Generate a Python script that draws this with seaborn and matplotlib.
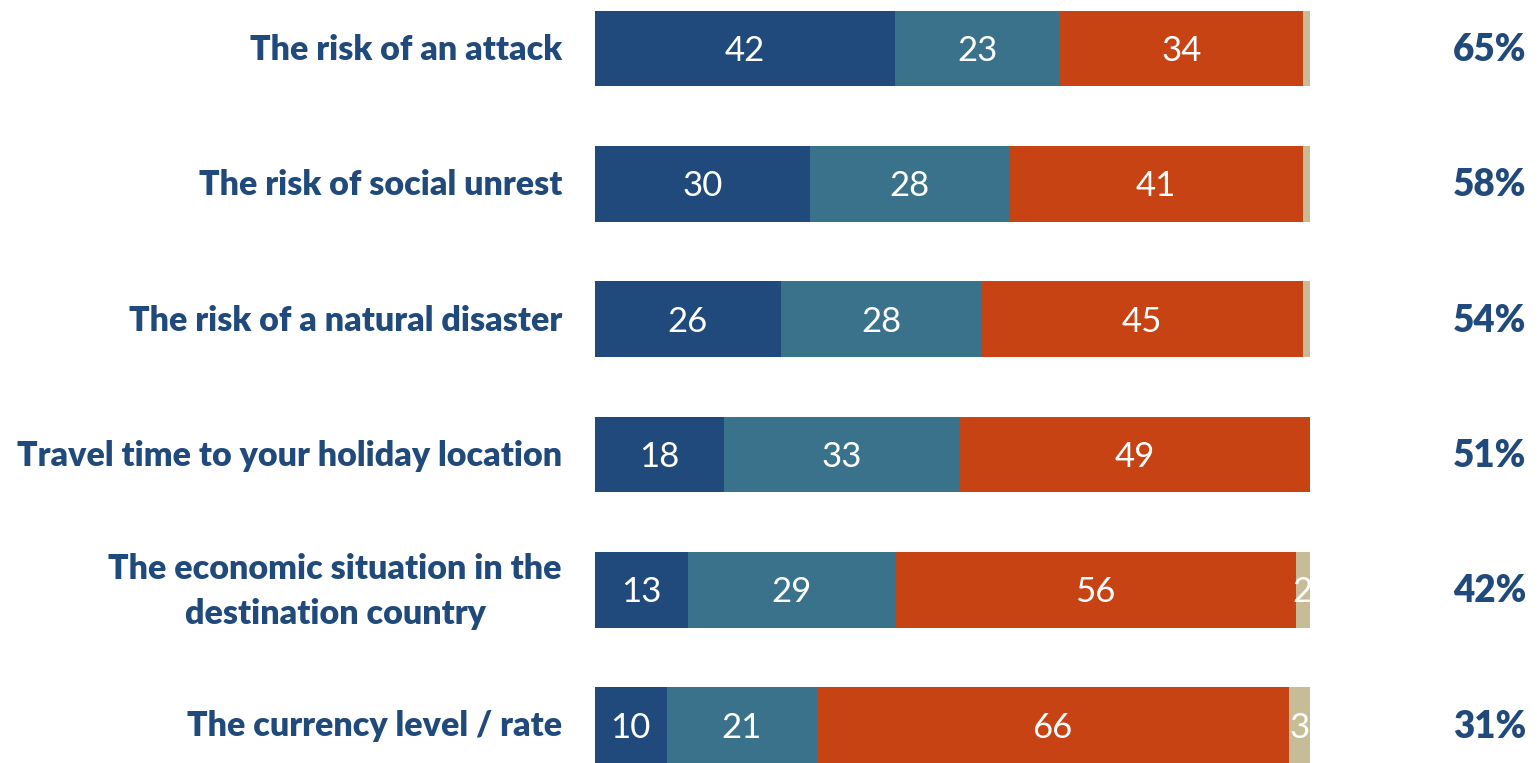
import numpy as np
import pandas as pd
import matplotlib
matplotlib.use("Agg")
import matplotlib.pyplot as plt
import seaborn as sns

categories = [
    "The risk of an attack",
    "The risk of social unrest",
    "The risk of a natural disaster",
    "Travel time to your holiday location",
    "The economic situation in the\ndestination country",
    "The currency level / rate",
]
very_important = [42, 30, 26, 18, 13, 10]
rather_important = [23, 28, 28, 33, 29, 21]
not_important = [34, 41, 45, 49, 56, 66]
no_answer = [1, 1, 1, 0, 2, 3]

series = [very_important, rather_important, not_important, no_answer]
colors = ["#214A7C", "#3A728C", "#C84314", "#C6BD98"]
label_color = "#214A7C"

sns.set_theme(style="white")
plt.rcParams["font.family"] = ["Lato", "DejaVu Sans"]

fig = plt.figure(figsize=(15.4, 7.63), dpi=100)
ax = fig.add_axes([595 / 1540, 0.0, 715 / 1540, 1.0])

df = pd.DataFrame({"category": categories})
cum = np.cumsum(np.array(series), axis=0)

# Draw cumulative totals from the widest down so each segment shows on top
for i in range(len(series) - 1, -1, -1):
    df["total"] = cum[i]
    sns.barplot(data=df, x="total", y="category", orient="h", color=colors[i],
                width=0.56, saturation=1, ax=ax, linewidth=0, order=categories)

# Segment values
for r in range(len(categories)):
    left = 0
    for i, vals in enumerate(series):
        v = vals[r]
        if v >= 2:
            ax.text(left + v / 2, r + 0.02, f"{v}", ha="center", va="center",
                    color="white", fontsize=25)
        left += v

row_y = [1 - (50 + r * 135.3) / 763 for r in range(len(categories))]

# Share of "important" answers on the right
for r in range(len(categories)):
    share = very_important[r] + rather_important[r]
    ax.text(1526 / 1540, row_y[r], f"{share}%",
            transform=fig.transFigure, ha="right", va="center",
            color=label_color, fontsize=26.5, fontweight="heavy")

# Category labels
for r, cat in enumerate(categories):
    ax.text(562 / 1540, row_y[r], cat,
            transform=fig.transFigure, ha="right", va="center",
            color=label_color, fontsize=24.5, fontweight="heavy",
            linespacing=1.5, multialignment="center")

ax.set_xlim(0, 100)
ax.set_ylim(5.28, -0.358)
ax.set_xlabel("")
ax.set_ylabel("")
ax.set_xticks([])
ax.set_yticks([])
for s in ax.spines.values():
    s.set_visible(False)

fig.savefig("out.png", dpi=100)
